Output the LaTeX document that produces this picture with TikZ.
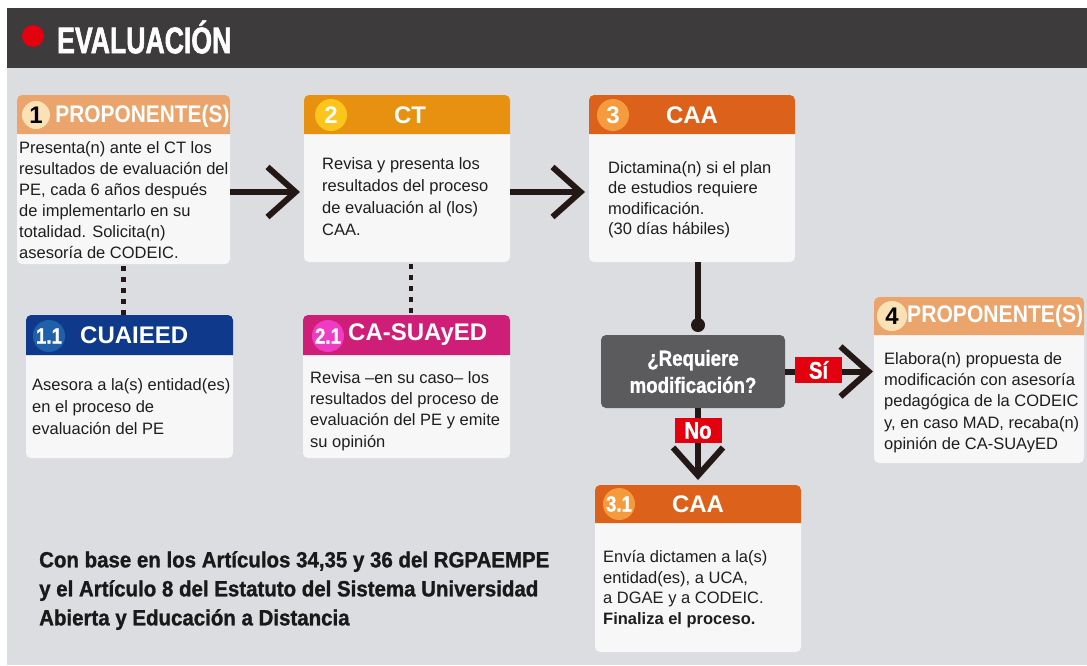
\documentclass[tikz,border=0pt]{standalone}
\usepackage{fontspec}
\usepackage{graphicx}
\setmainfont{Liberation Sans}
\newfontfamily\titlef[FakeStretch=0.72,FakeBold=1.5]{Liberation Sans}
\newfontfamily\condf[FakeStretch=0.85,FakeBold=1]{Liberation Sans}
\newfontfamily\footf[FakeStretch=0.93,FakeBold=1.2]{Liberation Sans}
\usetikzlibrary{arrows.meta,calc}
\definecolor{bg}{HTML}{DCDDE0}
\definecolor{bar}{HTML}{3E3B3C}
\definecolor{tred}{HTML}{E3000F}
\definecolor{bodyc}{HTML}{F7F7F8}
\definecolor{hdA}{HTML}{EBA46B}
\definecolor{ciA}{HTML}{FBE1B6}
\definecolor{hdB}{HTML}{E8900F}
\definecolor{ciB}{HTML}{FBC51B}
\definecolor{hdC}{HTML}{DC611A}
\definecolor{ciC}{HTML}{F59B3E}
\definecolor{hdN}{HTML}{0F3A8C}
\definecolor{ciN}{HTML}{2060AA}
\definecolor{hdM}{HTML}{CF1E78}
\definecolor{ciM}{HTML}{EF3CC4}
\definecolor{decc}{HTML}{5B5B5D}
\definecolor{connc}{HTML}{231815}
\definecolor{txt}{HTML}{1E1E1E}
\newcommand\hdr[3]{\fill[#3] ($(#1.north west)+(0,#2)$) [rounded corners=5pt] -- (#1.north west) -- (#1.north east) [sharp corners] -- ($(#1.north east)+(0,#2)$) -- cycle;}
\tikzset{
  bodybox/.style={rectangle, rounded corners=5pt, fill=bodyc, inner sep=0pt, outer sep=0pt, anchor=north west},
  bodytext/.style={anchor=north west, inner sep=0pt, align=left, text=txt, font=\fontsize{16.5}{#1}\selectfont},
  bodytext/.default=21,
  numc/.style={circle, inner sep=0pt, minimum size=#1, font=\fontsize{24}{24}\selectfont\bfseries, text=white},
  numc/.default=32pt,
  numcs/.style={circle, inner sep=0pt, minimum size=32pt, font=\condf\fontsize{22}{22}\selectfont\bfseries, text=white},
  htitle/.style={inner sep=0pt, text=white, font=\fontsize{24}{24}\selectfont\bfseries},
  connl/.style={draw=connc, line width=6pt},
  arrowc/.style={connl, -{Straight Barb[length=28pt, width=50pt, line cap=butt, line join=miter]}},
  dots/.style={draw=connc, line width=4.5pt, dash pattern=on 4.5pt off 6.5pt, dash phase=9pt},
  redlab/.style={rectangle, fill=tred, text=white, inner sep=0pt, minimum width=47pt, minimum height=26pt, font=\condf\fontsize{24}{24}\selectfont\bfseries},
}
\begin{document}
\begin{tikzpicture}[x=1pt,y=-1pt]
\useasboundingbox (0,0) rectangle (1087,665);
\fill[white] (0,0) rectangle (1087,665);
\fill[bg] (7,8) rectangle (1087,665);
\fill[bar] (7,8) rectangle (1087,68);
\node[circle, fill=tred, minimum size=22pt, inner sep=0pt] (reddot) at (33,36) {};
\node[anchor=west, inner sep=0pt, text=white, font=\titlef\fontsize{37}{37}\selectfont\bfseries] (title) at (57,37) {EVALUACIÓN};

% Box 1
\node[bodybox, minimum width=213pt, minimum height=169pt] (b1) at (17,95) {};
\hdr{b1}{39}{hdA}
\node[numc=28pt, fill=ciA, text=black] (n1) at (36,115) {1};
\node[htitle] (t1) at (142.5,116) {\scalebox{0.87}[1]{PROPONENTE(S)}};
\node[bodytext=21] (x1) at (19,141) {Presenta(n) ante el CT los\\resultados de evaluación del\\PE, cada 6 años después\\de implementarlo en su\\totalidad. Solicita(n)\\asesoría de CODEIC.};

% Box 2
\node[bodybox, minimum width=206pt, minimum height=167pt] (b2) at (304,95) {};
\hdr{b2}{39}{hdB}
\node[numc, fill=ciB] (n2) at (331,115) {2};
\node[htitle] (t2) at (410,115) {CT};
\node[bodytext=22] (x2) at (322,157) {Revisa y presenta los\\resultados del proceso\\de evaluación al (los)\\CAA.};

% Box 3
\node[bodybox, minimum width=206pt, minimum height=167pt] (b3) at (589,95) {};
\hdr{b3}{39}{hdC}
\node[numc, fill=ciC] (n3) at (613,115) {3};
\node[htitle] (t3) at (692,115) {CAA};
\node[bodytext=20.5] (x3) at (608,161) {Dictamina(n) si el plan\\de estudios requiere\\modificación.\\(30 días hábiles)};

% Box 1.1
\node[bodybox, minimum width=207pt, minimum height=143pt] (b11) at (26,315) {};
\hdr{b11}{40}{hdN}
\node[numcs, fill=ciN] (n11) at (49,336) {1.1};
\node[htitle, anchor=west] (t11) at (80,335) {CUAIEED};
\node[bodytext=22] (x11) at (32,378) {Asesora a la(s) entidad(es)\\en el proceso de\\evaluación del PE};

% Box 2.1
\node[bodybox, minimum width=207pt, minimum height=143pt] (b21) at (303,315) {};
\hdr{b21}{40}{hdM}
\node[numcs, fill=ciM] (n21) at (328,336) {2.1};
\node[htitle, anchor=west] (t21) at (348,335) {CA-SUAyED};
\node[bodytext=21.3] (x21) at (310,371) {Revisa –en su caso– los\\resultados del proceso de\\evaluación del PE y emite\\su opinión};

% Box 4
\node[bodybox, minimum width=210pt, minimum height=166pt] (b4) at (874,297) {};
\hdr{b4}{38}{hdA}
\node[numc=30pt, fill=ciA, text=black] (n4) at (892,316) {4};
\node[htitle, anchor=west] (t4) at (907,316) {\scalebox{0.88}[1]{PROPONENTE(S)}};
\node[bodytext=21.3] (x4) at (884,352) {Elabora(n) propuesta de\\modificación con asesoría\\pedagógica de la CODEIC\\y, en caso MAD, recaba(n)\\opinión de CA-SUAyED};

% Box 3.1
\node[bodybox, minimum width=206pt, minimum height=167pt] (b31) at (595,485) {};
\hdr{b31}{38}{hdC}
\node[numcs, fill=ciC] (n31) at (619,504) {3.1};
\node[htitle] (t31) at (698,504) {CAA};
\node[bodytext=20.7] (x31) at (603,550) {Envía dictamen a la(s)\\entidad(es), a UCA,\\a DGAE y a CODEIC.\\\textbf{Finaliza el proceso.}};

% Decision
\node[rectangle, rounded corners=5pt, fill=decc, inner sep=0pt, minimum width=184pt, minimum height=73pt, align=center, text=white, font=\condf\fontsize{22}{27}\selectfont\bfseries] (dec) at (693,371.5) {¿Requiere\\modificación?};
\node[circle, fill=connc, inner sep=0pt, minimum size=14pt] (jdot) at (698,325) {};

% Connectors
\draw[arrowc] ([yshift=-12.5pt]b1.east) -- ([xshift=-4pt,yshift=-13.5pt]b2.west);
\draw[arrowc] ([yshift=-13.5pt]b2.east) -- ([xshift=-4pt,yshift=-13.5pt]b3.west);
\draw[dots] (b1.south) -- (b1.south |- b11.north);
\draw[dots] ([xshift=4pt]b2.south) -- ([xshift=4pt]b2.south |- b21.north);
\draw[connl] ([xshift=6pt]b3.south) -- (jdot.center);
\draw[arrowc] (dec.east) -- ([xshift=-1pt]b4.west |- dec.east);
\draw[arrowc] (b31.north |- dec.south) -- ([yshift=5pt]b31.north);
\node[redlab] (si) at (818.5,370) {Sí};
\node[redlab, minimum height=25pt] (no) at (698,430.5) {No};

% Footer
\node[anchor=north west, inner sep=0pt, align=left, text=black!90, font=\footf\fontsize{22}{29}\selectfont\bfseries] (foot) at (39,551) {Con base en los Artículos 34,35 y 36 del RGPAEMPE\\y el Artículo 8 del Estatuto del Sistema Universidad\\Abierta y Educación a Distancia};
\end{tikzpicture}
\end{document}
